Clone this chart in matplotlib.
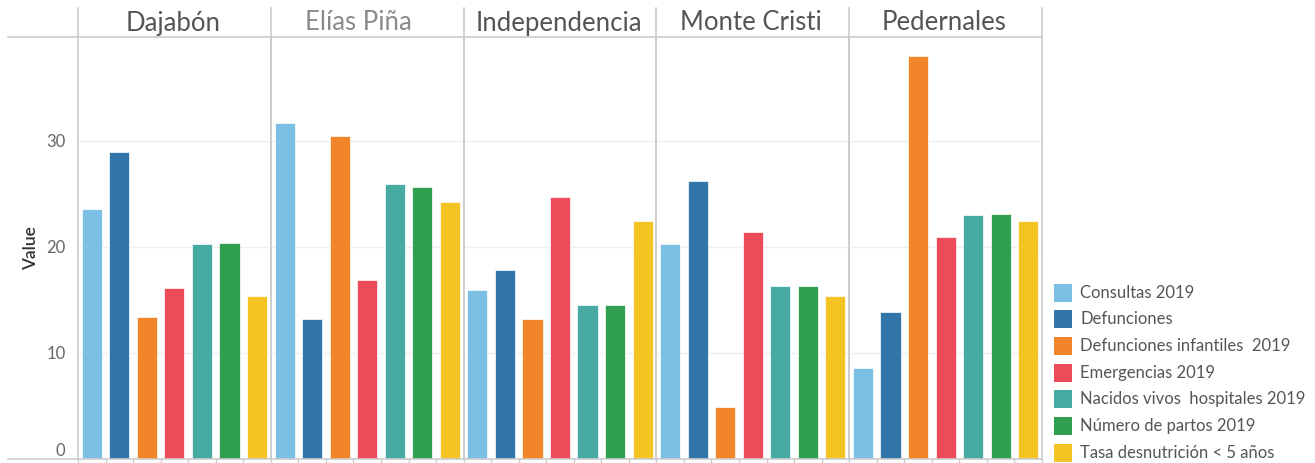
import matplotlib.pyplot as plt
from matplotlib.lines import Line2D
from matplotlib.patches import Rectangle
import numpy as np

plt.rcParams['font.family'] = ['Lato', 'DejaVu Sans']

provincias = ['Dajabón', 'Elías Piña', 'Independencia', 'Monte Cristi', 'Pedernales']
series = ['Consultas 2019', 'Defunciones', 'Defunciones infantiles  2019',
          'Emergencias 2019', 'Nacidos vivos  hospitales 2019',
          'Número de partos 2019', 'Tasa desnutrición < 5 años']
colores = ['#7bc0e4', '#3275a8', '#f28529', '#ec4c5a', '#47aba4', '#30a04f', '#f4c424']

# valores por provincia, en el orden de series
dajabon = [23.6, 29.0, 13.4, 16.1, 20.3, 20.4, 15.4]
elias_pina = [31.65, 13.25, 30.5, 16.85, 25.9, 25.7, 24.2]
independencia = [15.9, 17.8, 13.25, 24.7, 14.5, 14.5, 22.4]
monte_cristi = [20.3, 26.2, 4.95, 21.4, 16.3, 16.3, 15.4]
pedernales = [8.57, 13.85, 38.0, 20.9, 23.0, 23.1, 22.4]
valores = [dajabon, elias_pina, independencia, monte_cristi, pedernales]

W, H = 1315, 463
fig = plt.figure(figsize=(W / 100, H / 100), dpi=100)

x_left, x_right, y_top, y_bot = 78, 1042, 37, 459
ax = fig.add_axes([x_left / W, (H - y_bot) / H, (x_right - x_left) / W, (y_bot - y_top) / H])

n = len(series)
for p, vals in enumerate(valores):
    for s, v in enumerate(vals):
        ax.bar(p * n + s + 0.5, v, width=0.73, color=colores[s],
               edgecolor='white', linewidth=0.5, zorder=3)

ax.set_xlim(0, n * len(provincias))
ax.set_ylim(0, 39.8)
ax.set_yticks([0, 10, 20, 30])
ax.set_yticklabels(['0', '10', '20', '30'], fontsize=12, color='#666666')
ax.get_yticklabels()[0].set_va('bottom')
ax.set_xticks([])
ax.tick_params(axis='y', length=0, pad=9)
ax.yaxis.grid(True, color='#efefef', linewidth=1, zorder=0)
for sp in ax.spines.values():
    sp.set_visible(False)
ax.set_ylabel('Value', fontsize=12.5, color='#333333', fontweight='semibold', labelpad=5)

# separadores de paneles
for p in range(1, len(provincias)):
    ax.axvline(p * n, color='#cccccc', linewidth=1.2, zorder=1)

# marcas en la base
for k in range(n * len(provincias) + 1):
    fig.add_artist(Line2D([(x_left + k * (x_right - x_left) / (n * len(provincias))) / W] * 2,
                          [(H - 459) / H, (H - 463) / H], color='#cccccc', linewidth=1))

# marcos de cabecera y eje
for xb in np.linspace(x_left, x_right, len(provincias) + 1):
    fig.add_artist(Line2D([xb / W, xb / W], [(H - 8) / H, (H - y_bot) / H],
                          color='#cccccc', linewidth=1.2))
fig.add_artist(Line2D([8 / W, x_right / W], [(H - y_top) / H] * 2, color='#cccccc', linewidth=1.2))
fig.add_artist(Line2D([8 / W, x_right / W], [(H - y_bot) / H] * 2, color='#cccccc', linewidth=1.2))

centros = [173, 358, 559, 751, 944]
for nombre, cx in zip(provincias, centros):
    col = '#8a8a8a' if nombre == 'Elías Piña' else '#555555'
    fig.text(cx / W, (H - 23) / H, nombre, ha='center', va='center', fontsize=18.5,
             color=col)

# leyenda
for i, (nombre, c) in enumerate(zip(series, colores)):
    yc = 292.5 + i * 26.7
    fig.add_artist(Rectangle((1054 / W, (H - yc - 9) / H), 18 / W, 18 / H,
                             facecolor=c, edgecolor='none', transform=fig.transFigure))
    fig.text(1080 / W, (H - yc) / H, nombre, ha='left', va='center', fontsize=12, color='#555555')

fig.savefig('out.png', dpi=100)
